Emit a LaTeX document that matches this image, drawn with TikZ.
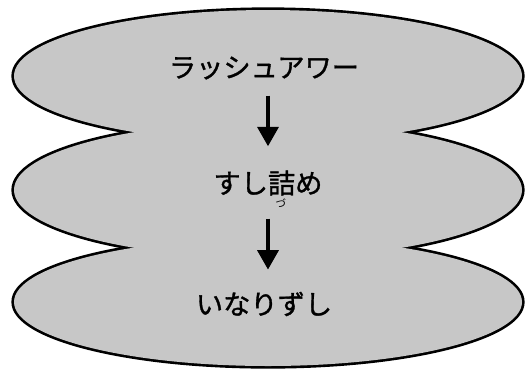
\documentclass[tikz,border=0pt]{standalone}
\usepackage{fontspec}
\setmainfont{Noto Sans CJK JP}
\newfontfamily\thickjp[FakeBold=1.2]{Noto Sans CJK JP}
\usetikzlibrary{arrows.meta}
\begin{document}
\begin{tikzpicture}[x=0.02cm,y=-0.02cm]
	% styles
	\tikzstyle{cloud} += [fill=black!22]
	\tikzstyle{rim} += [draw=black,line width=3pt]
	\tikzstyle{word} += [font=\fontsize{15.5}{18}\thickjp,inner sep=0pt]
	\tikzstyle{ruby} += [font=\fontsize{6}{7}\selectfont,inner sep=0pt]
	\tikzstyle{flow} += [line width=1.8pt,-{Triangle[length=11pt,width=12pt]}]
	
	% bounding box
	\useasboundingbox (0,0) rectangle (525,373);
	
	% outline of the three lobes (fill drawn over it)
	\foreach \cy/\ry in {76/66,190/68,302/64}
	{
		\path[rim] (268,\cy) ellipse [x radius=254,y radius=\ry];
	}
	\foreach \cy/\ry in {76/66,190/68,302/64}
	{
		\path[cloud] (268,\cy) ellipse [x radius=254,y radius=\ry];
	}
	
	% words
	\node[word] (rush) at (264,68) {ラッシュアワー};
	\node[word] (sushi) at (268,183) {すし詰め};
	\node[ruby] (zu) at (281,203) {づ};
	\node[word] (inari) at (264,304) {いなりずし};
	
	% arrows
	\draw[flow,shorten <=9pt,shorten >=13.6pt] (sushi.north |- rush.south) -- (sushi.north);
	\draw[flow,shorten <=13pt,shorten >=12.5pt] (sushi.south) -- (sushi.south |- inari.north);
\end{tikzpicture}
\end{document}
